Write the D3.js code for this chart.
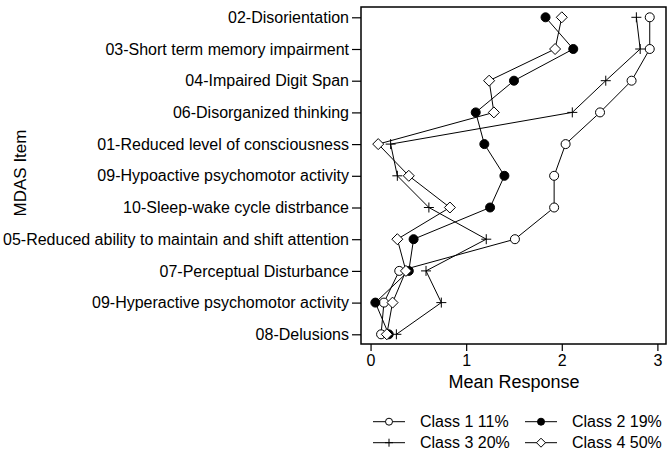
<!DOCTYPE html>
<html>
<head>
<meta charset="utf-8">
<script src="https://cdn.jsdelivr.net/npm/d3@7"></script>
<style>
  body { margin: 0; background: #fff; }
  text { font-family: "Liberation Sans", Arial, sans-serif; fill: #000; }
</style>
</head>
<body>
<svg id="chart" width="672" height="453"></svg>
<script>
"use strict";

// MDAS items, top to bottom
const items = [
    "02-Disorientation",
    "03-Short term memory impairment",
    "04-Impaired Digit Span",
    "06-Disorganized thinking",
    "01-Reduced level of consciousness",
    "09-Hypoactive psychomotor activity",
    "10-Sleep-wake cycle distrbance",
    "05-Reduced ability to maintain and shift attention",
    "07-Perceptual Disturbance",
    "09-Hyperactive psychomotor activity",
    "08-Delusions"
];

// mean responses per class, same order as items
const class1 = [2.92, 2.92, 2.73, 2.40, 2.04, 1.92, 1.92, 1.51, 0.30, 0.14, 0.11];
const class2 = [1.83, 2.12, 1.50, 1.10, 1.19, 1.40, 1.25, 0.45, 0.40, 0.05, 0.19];
const class3 = [2.78, 2.82, 2.46, 2.11, 0.21, 0.28, 0.61, 1.21, 0.58, 0.74, 0.27];
const class4 = [2.00, 1.93, 1.24, 1.29, 0.08, 0.40, 0.83, 0.28, 0.37, 0.23, 0.17];

const classNames = ["Class 1 11%", "Class 2 19%", "Class 3 20%", "Class 4 50%"];
const xTicks = [0, 1, 2, 3];

const series = [
    { name: classNames[0], values: class1, marker: "circle" },
    { name: classNames[1], values: class2, marker: "dot" },
    { name: classNames[2], values: class3, marker: "plus" },
    { name: classNames[3], values: class4, marker: "diamond" }
];

const svg = d3.select("#chart");
const margin = { left: 361, right: 6, top: 7, bottom: 109 };
const width = 672 - margin.left - margin.right;
const height = 453 - margin.top - margin.bottom;

const g = svg.append("g")
    .attr("transform", "translate(" + margin.left + "," + margin.top + ")");

// scales
const x = d3.scaleLinear()
    .domain([-0.1, 3.09])
    .range([0, width]);
const y = d3.scalePoint()
    .domain(items)
    .range([10.3, 327.3]);

// axes
const xAxis = g.append("g")
    .attr("transform", "translate(0," + height + ")")
    .call(d3.axisBottom(x).tickValues(xTicks).tickFormat(d3.format("d")).tickSize(7).tickPadding(4));
const yAxis = g.append("g")
    .call(d3.axisLeft(y).tickSize(9).tickPadding(3));

[xAxis, yAxis].forEach(function (a) {
    a.select(".domain").remove();
    a.selectAll("line").attr("stroke", "#000").attr("stroke-width", 1.2);
    a.selectAll("text").style("font-size", "16px").attr("fill", "#000");
});

// plot frame
g.append("rect")
    .attr("x", 0).attr("y", 0)
    .attr("width", width).attr("height", height)
    .attr("fill", "none")
    .attr("stroke", "#000")
    .attr("stroke-width", 1.5);

// draw a marker at (cx, cy)
function drawMarker(sel, type, cx, cy, r) {
    if (type === "circle" || type === "dot") {
        sel.append("circle")
            .attr("cx", cx).attr("cy", cy).attr("r", r)
            .attr("fill", type === "dot" ? "#000" : "#fff")
            .attr("stroke", "#000").attr("stroke-width", 1);
    } else if (type === "diamond") {
        let s = r + 1;
        sel.append("path")
            .attr("d", "M" + cx + "," + (cy - s) + "L" + (cx + s) + "," + cy +
                "L" + cx + "," + (cy + s) + "L" + (cx - s) + "," + cy + "Z")
            .attr("fill", "#fff")
            .attr("stroke", "#000").attr("stroke-width", 1);
    } else {
        let s = r + 0.5;
        sel.append("path")
            .attr("d", "M" + (cx - s) + "," + cy + "H" + (cx + s) +
                "M" + cx + "," + (cy - s) + "V" + (cy + s))
            .attr("fill", "none")
            .attr("stroke", "#000").attr("stroke-width", 1);
    }
}

const line = d3.line()
    .x(function (d) { return x(d.v); })
    .y(function (d) { return y(d.item); });

// lines first, markers on top
series.forEach(function (s) {
    let pts = s.values.map(function (v, i) { return { v: v, item: items[i] }; });
    g.append("path")
        .datum(pts)
        .attr("fill", "none")
        .attr("stroke", "#000")
        .attr("stroke-width", 1)
        .attr("d", line);
});
series.forEach(function (s) {
    let mg = g.append("g");
    s.values.forEach(function (v, i) {
        drawMarker(mg, s.marker, x(v), y(items[i]), 4.5);
    });
});

// axis titles
svg.append("text")
    .attr("x", 514)
    .attr("y", 388)
    .attr("text-anchor", "middle")
    .style("font-size", "18px")
    .text("Mean Response");
svg.append("text")
    .attr("transform", "translate(26,173) rotate(-90)")
    .attr("text-anchor", "middle")
    .style("font-size", "17px")
    .text("MDAS Item");

// legend
const legend = svg.append("g");
series.forEach(function (s, i) {
    let col = i % 2, row = Math.floor(i / 2);
    let lx = 373 + col * 152;
    let ly = 421.7 + row * 21;
    legend.append("line")
        .attr("x1", lx).attr("x2", lx + 32)
        .attr("y1", ly).attr("y2", ly)
        .attr("stroke", "#000").attr("stroke-width", 1);
    drawMarker(legend, s.marker, lx + 16, ly, 3.5);
    legend.append("text")
        .attr("x", lx + 47)
        .attr("y", ly + 5.5)
        .style("font-size", "16px")
        .text(s.name);
});
</script>
</body>
</html>
